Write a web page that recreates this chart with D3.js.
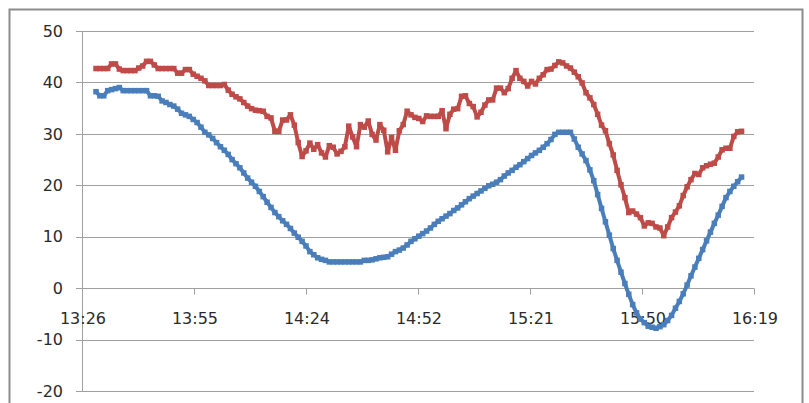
<!DOCTYPE html>
<html><head><meta charset="utf-8">
<script src="https://cdn.jsdelivr.net/npm/d3@7"></script>
<style>
html,body{margin:0;padding:0;background:#fff;}
svg{display:block;}
text{font-family:"DejaVu Sans",Verdana,sans-serif;fill:#2a2a2a;}
</style></head>
<body><svg id="c" width="809" height="403"></svg>
<script>
// ---- data (one sample per minute starting 13:30) ----
const startMinute = 13*60+30;
const blueSeries = [38.2,37.4,37.4,38.4,38.6,38.8,39.0,38.4,38.4,38.4,
38.4,38.4,38.4,38.4,37.4,37.4,37.3,36.4,36.1,35.7,
35.4,34.8,34.0,33.7,33.4,32.8,32.2,31.3,30.3,29.8,
29.1,28.3,27.5,26.8,26.0,25.0,24.2,23.4,22.4,21.4,
20.6,19.8,18.8,17.8,16.7,15.7,14.7,13.9,13.1,12.4,
11.6,10.7,9.9,9.1,8.2,7.1,6.5,5.9,5.6,5.4,
5.1,5.1,5.1,5.1,5.1,5.1,5.1,5.1,5.1,5.4,
5.4,5.5,5.7,5.9,6.0,6.1,6.6,7.1,7.4,7.8,
8.4,9.1,9.6,10.1,10.6,11.1,11.7,12.4,13.0,13.5,
14.0,14.5,15.1,15.6,16.2,16.8,17.4,17.9,18.4,18.9,
19.4,19.9,20.2,20.6,21.1,21.8,22.4,22.9,23.5,24.0,
24.6,25.2,25.8,26.3,26.8,27.4,28.1,28.9,29.9,30.3,
30.3,30.3,30.3,29.0,27.4,26.1,24.8,23.0,20.9,18.2,
15.5,12.9,10.3,7.7,5.4,3.1,0.9,-1.2,-3.2,-4.8,
-6.0,-6.7,-7.4,-7.6,-7.8,-7.5,-7.1,-6.3,-5.3,-3.9,
-2.6,-1.1,0.6,2.4,4.1,5.8,7.5,9.2,10.9,12.6,
14.2,15.9,17.6,18.8,19.8,20.7,21.6];
const redSeries = [42.7,42.7,42.7,42.7,43.6,43.6,42.6,42.3,42.3,42.3,
42.3,42.8,43.2,44.1,44.1,43.4,42.7,42.7,42.7,42.7,
42.7,41.8,41.8,42.5,42.5,41.6,41.2,40.8,40.3,39.4,
39.4,39.4,39.4,39.6,38.5,37.7,37.2,36.8,36.1,35.4,
34.9,34.6,34.5,34.4,33.4,33.1,30.5,30.5,32.7,32.7,
33.7,31.7,28.3,25.6,26.7,28.2,27.0,27.9,26.3,25.5,
27.7,27.4,26.1,26.6,27.5,31.5,29.4,27.5,31.8,31.3,
32.5,29.9,28.8,31.8,30.7,26.5,29.3,26.8,30.6,31.8,
34.4,33.7,33.2,33.0,32.4,33.5,33.4,33.4,33.4,34.5,
31.0,33.8,34.8,34.9,37.3,37.4,35.9,35.3,33.3,34.2,
35.6,36.6,36.6,38.9,38.9,38.0,38.8,40.8,42.3,40.8,
40.2,39.3,40.2,39.7,40.8,41.5,42.5,42.6,43.3,44.0,
43.8,43.2,42.8,42.0,41.1,39.9,38.0,37.0,35.7,33.8,
31.7,30.6,28.1,25.9,22.9,20.1,17.6,14.7,15.0,14.4,
13.7,12.1,12.7,12.6,11.9,11.7,10.2,11.9,13.7,14.8,
16.0,18.0,19.7,21.1,22.3,22.1,23.4,23.8,24.1,24.3,
25.5,26.9,27.2,27.2,29.5,30.4,30.5];
const xTickMinutes = [806.4, 835.2, 864, 892.8, 921.6, 950.4, 979.2];
const xTickLabels = ["13:26","13:55","14:24","14:52","15:21","15:50","16:19"];
const yTicks = [-20,-10,0,10,20,30,40,50];

// ---- drawing ----
const svg = d3.select("#c");
const x = d3.scaleLinear().domain([806.4, 979.2]).range([82, 754]);
const y = d3.scaleLinear().domain([-20, 50]).range([391, 31]);

// outer chart border
svg.append("rect").attr("x",9.5).attr("y",9.5).attr("width",793).attr("height",410)
  .attr("fill","none").attr("stroke","#8c8c8c").attr("stroke-width",2);

// gridlines
svg.append("g").selectAll("line").data(yTicks).join("line")
  .attr("x1",76).attr("x2",754).attr("y1",d=>Math.round(y(d))+0.5).attr("y2",d=>Math.round(y(d))+0.5)
  .attr("stroke","#a0a0a0").attr("stroke-width",1);

// y axis line
svg.append("line").attr("x1",82.5).attr("x2",82.5).attr("y1",y(50)).attr("y2",y(-20)+0.5)
  .attr("stroke","#a0a0a0");

// y labels
svg.append("g").selectAll("text").data(yTicks).join("text")
  .attr("x",63).attr("y",d=>y(d)).attr("dy","0.36em").attr("text-anchor","end")
  .style("font-size","16px").text(d=>d);

// x axis ticks at y=0
const y0 = Math.round(y(0))+0.5;
svg.append("g").selectAll("line").data(xTickMinutes).join("line")
  .attr("x1",d=>Math.round(x(d))+0.5).attr("x2",d=>Math.round(x(d))+0.5)
  .attr("y1",y0).attr("y2",y0+6).attr("stroke","#a0a0a0");
svg.append("g").selectAll("text").data(xTickMinutes).join("text")
  .attr("x",d=>x(d)+1).attr("y",324).attr("text-anchor","middle")
  .style("font-size","16px").text((d,i)=>xTickLabels[i]);

// series
const t = i => startMinute + i;
function drawSeries(vals, color){
  const line = d3.line().x((d,i)=>x(t(i))).y(d=>y(d));
  svg.append("path").datum(vals).attr("d",line).attr("fill","none")
    .attr("stroke",color).attr("stroke-width",4).attr("stroke-linejoin","round");
  svg.append("g").selectAll("rect").data(vals).join("rect")
    .attr("x",(d,i)=>x(t(i))-2.75).attr("y",d=>y(d)-2.75)
    .attr("width",5.5).attr("height",5.5).attr("fill",color);
}
drawSeries(blueSeries, "#4a7ebb");
drawSeries(redSeries, "#be4b48");
</script></body></html>
